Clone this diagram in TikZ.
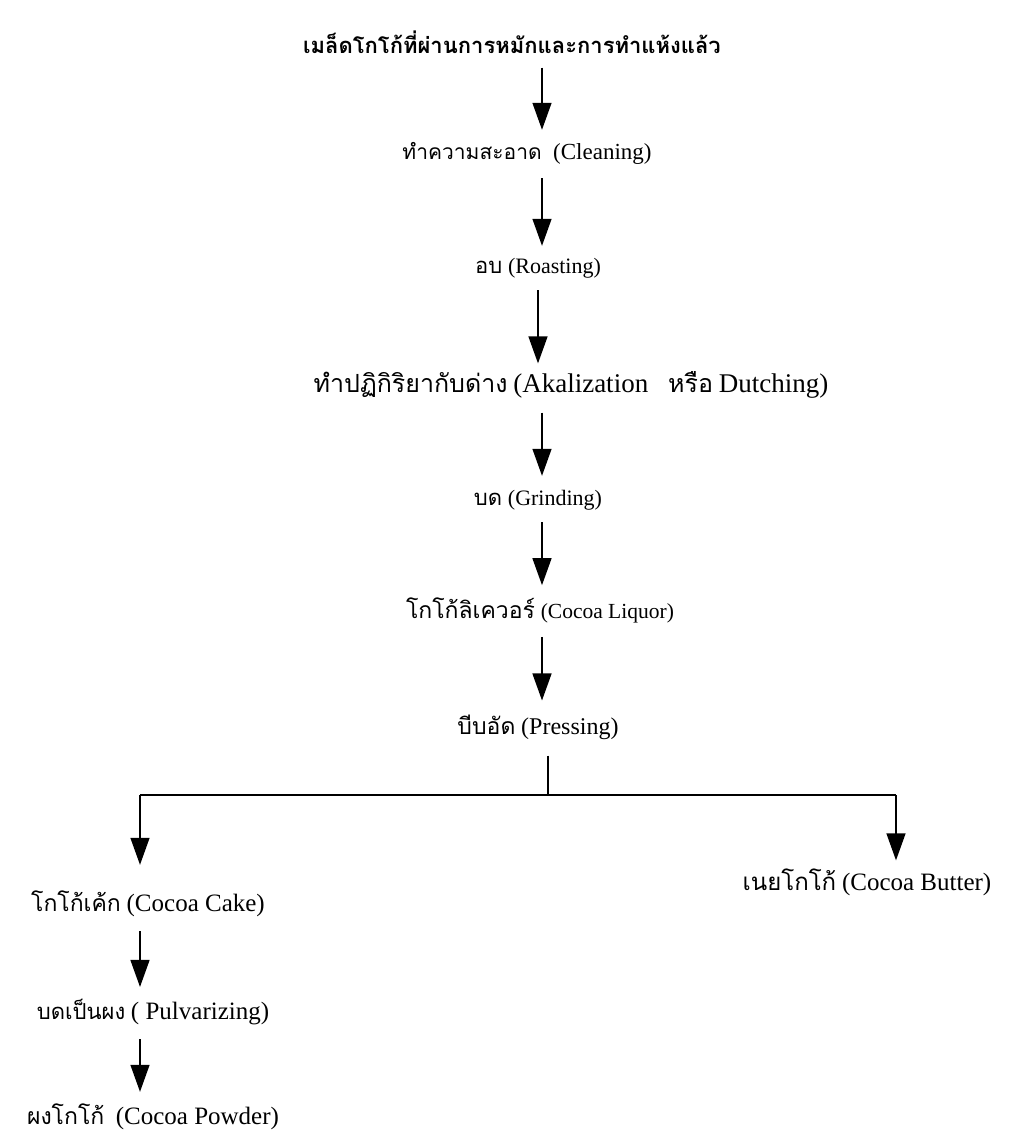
\documentclass[tikz,border=0pt]{standalone}
\usepackage{fontspec}
\setmainfont{Liberation Serif}
\newfontfamily\thai[Script=Thai]{Loma}
\newcommand\tsz[1]{\fontsize{#1}{#1}\selectfont}
\usetikzlibrary{arrows.meta}
\begin{document}
\begin{tikzpicture}[x=1pt,y=-1pt,
  lbl/.style={inner sep=0pt, font=\tsz{23}},
  arr/.style={line width=1.4pt, -{Triangle[width=19pt,length=27pt]}},
  ln/.style={line width=1.4pt}]
\useasboundingbox (0,0) rectangle (1020,1136);
\coordinate (ax) at (542,0);
\node[lbl] (t1) at (512,42) {\thai\bfseries\tsz{22}เมล็ดโกโก้ที่ผ่านการหมักและการทำแห้งแล้ว};
\node[lbl] (t2) at (527,153) {{\thai\tsz{21}ทำความสะอาด}\ \ {\tsz{23}(Cleaning)}};
\node[lbl] (t3) at (538,268) {{\thai\tsz{22}อบ} {\tsz{22}(Roasting)}};
\node[lbl] (t4) at (571,385) {{\thai\tsz{25}ทำปฏิกิริยากับด่าง} {\tsz{27}(Akalization}\hspace{20pt}{\thai\tsz{25}หรือ} {\tsz{27}Dutching)}};
\node[lbl] (t5) at (538,500) {{\thai\tsz{22}บด} {\tsz{22}(Grinding)}};
\node[lbl] (t6) at (540,610) {{\thai\tsz{23}โกโก้ลิเควอร์} {\tsz{21.5}(Cocoa Liquor)}};
\node[lbl] (t7) at (538,727) {{\thai\tsz{23}บีบอัด} {\tsz{24}(Pressing)}};
\node[lbl] (t8) at (148,904) {{\thai\tsz{23}โกโก้เค้ก} {\tsz{25}(Cocoa Cake)}};
\node[lbl] (t9) at (867,882) {{\thai\tsz{24}เนยโกโก้} {\tsz{25}(Cocoa Butter)}};
\node[lbl] (t10) at (153,1012) {{\thai\tsz{22}บดเป็นผง} {\tsz{25}( Pulvarizing)}};
\node[lbl] (t11) at (153,1117) {{\thai\tsz{23}ผงโกโก้}\ \ {\tsz{25}(Cocoa Powder)}};
\coordinate (sp) at (548,795);
\coordinate (lc) at (140,795);
\coordinate (rc) at (896,795);
\draw[arr] ([yshift=-14pt]t1.south -| ax) -- ([yshift=12pt]t2.north -| ax);
\draw[arr] ([yshift=-14pt]t2.south -| ax) -- ([yshift=12pt]t3.north -| ax);
\draw[arr] ([yshift=-12pt]t3.south -| t3) -- ([yshift=8pt]t4.north -| t3);
\draw[arr] ([yshift=-14pt]t4.south -| ax) -- ([yshift=14pt]t5.north -| ax);
\draw[arr] ([yshift=-12pt]t5.south -| ax) -- ([yshift=12pt]t6.north -| ax);
\draw[arr] ([yshift=-14pt]t6.south -| ax) -- ([yshift=14pt]t7.north -| ax);
\draw[ln] ([yshift=-16pt]t7.south -| sp) -- (sp);
\draw[ln] (lc) -- (rc);
\draw[arr] (lc) -- ([yshift=26pt]t8.north -| lc);
\draw[arr] (rc) -- ([yshift=8pt]t9.north -| rc);
\draw[arr] ([yshift=-14pt]t8.south -| lc) -- ([yshift=12pt]t10.north -| lc);
\draw[arr] ([yshift=-14pt]t10.south -| lc) -- ([yshift=12pt]t11.north -| lc);
\end{tikzpicture}
\end{document}
